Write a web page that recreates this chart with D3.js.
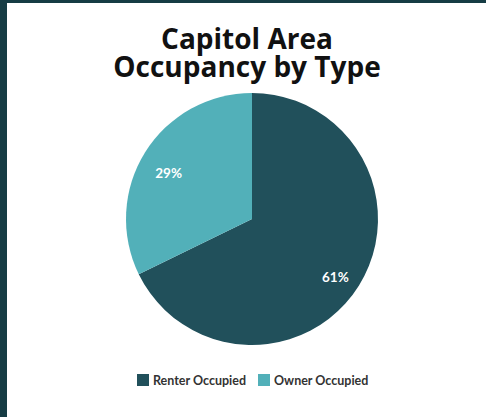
<!DOCTYPE html>
<html><head><meta charset="utf-8">
<script src="https://cdn.jsdelivr.net/npm/d3@7"></script>
<style>
html,body{margin:0;padding:0;background:#fff;}
svg{display:block;}
</style></head>
<body>
<svg id="chart" width="486" height="417"></svg>
<script>
const categories = ["Renter Occupied", "Owner Occupied"];
const values = [61, 29];
const labels = ["61%", "29%"];
const colors = ["#21505b", "#52b0b9"];
const titleLines = ["Capitol Area", "Occupancy by Type"];

const svg = d3.select("#chart");
// frame
svg.append("rect").attr("x",0).attr("y",0).attr("width",486).attr("height",417).attr("fill","#fff");
svg.append("rect").attr("x",0).attr("y",0).attr("width",486).attr("height",3).attr("fill","#163c44");
svg.append("rect").attr("x",0).attr("y",0).attr("width",7).attr("height",417).attr("fill","#163c44");

// title
svg.append("g").selectAll("text").data(titleLines).join("text")
  .attr("x",247).attr("y",(d,i)=>49+i*28)
  .attr("text-anchor","middle")
  .attr("font-family","'Open Sans', sans-serif").attr("font-weight",700)
  .attr("font-size",28).attr("fill","#111")
  .text(d=>d);

const cx=252, cy=219, R=126;
const data = categories.map((c,i)=>({cat:c, value:values[i], label:labels[i], color:colors[i]}));
const pie = d3.pie().value(d=>d.value).sort(null);
const arc = d3.arc().innerRadius(0).outerRadius(R);
const labelArc = d3.arc().innerRadius(R*0.78).outerRadius(R*0.78);
const g = svg.append("g").attr("transform",`translate(${cx},${cy})`);
const arcs = pie(data);
g.selectAll("path").data(arcs).join("path").attr("d",arc).attr("fill",d=>d.data.color);
g.selectAll("text").data(arcs).join("text")
  .attr("transform",d=>{const c=labelArc.centroid(d); return `translate(${c[0]},${c[1]+6})`;})
  .attr("text-anchor","middle").attr("dy","0.35em")
  .attr("font-family","Lato, sans-serif").attr("font-weight",700)
  .attr("font-size",13.5).attr("fill","#fff")
  .text(d=>d.data.label);

// legend
const legend = svg.append("g");
const lx = [137, 258];
const items = legend.selectAll("g").data(data).join("g")
  .attr("transform",(d,i)=>`translate(${lx[i]},374)`);
items.append("rect").attr("width",12).attr("height",12).attr("fill",d=>d.color);
items.append("text").attr("x",16).attr("y",11)
  .attr("font-family","Lato, sans-serif").attr("font-weight",700)
  .attr("font-size",12.5).attr("fill","#333")
  .text(d=>d.cat);
</script>
</body></html>
